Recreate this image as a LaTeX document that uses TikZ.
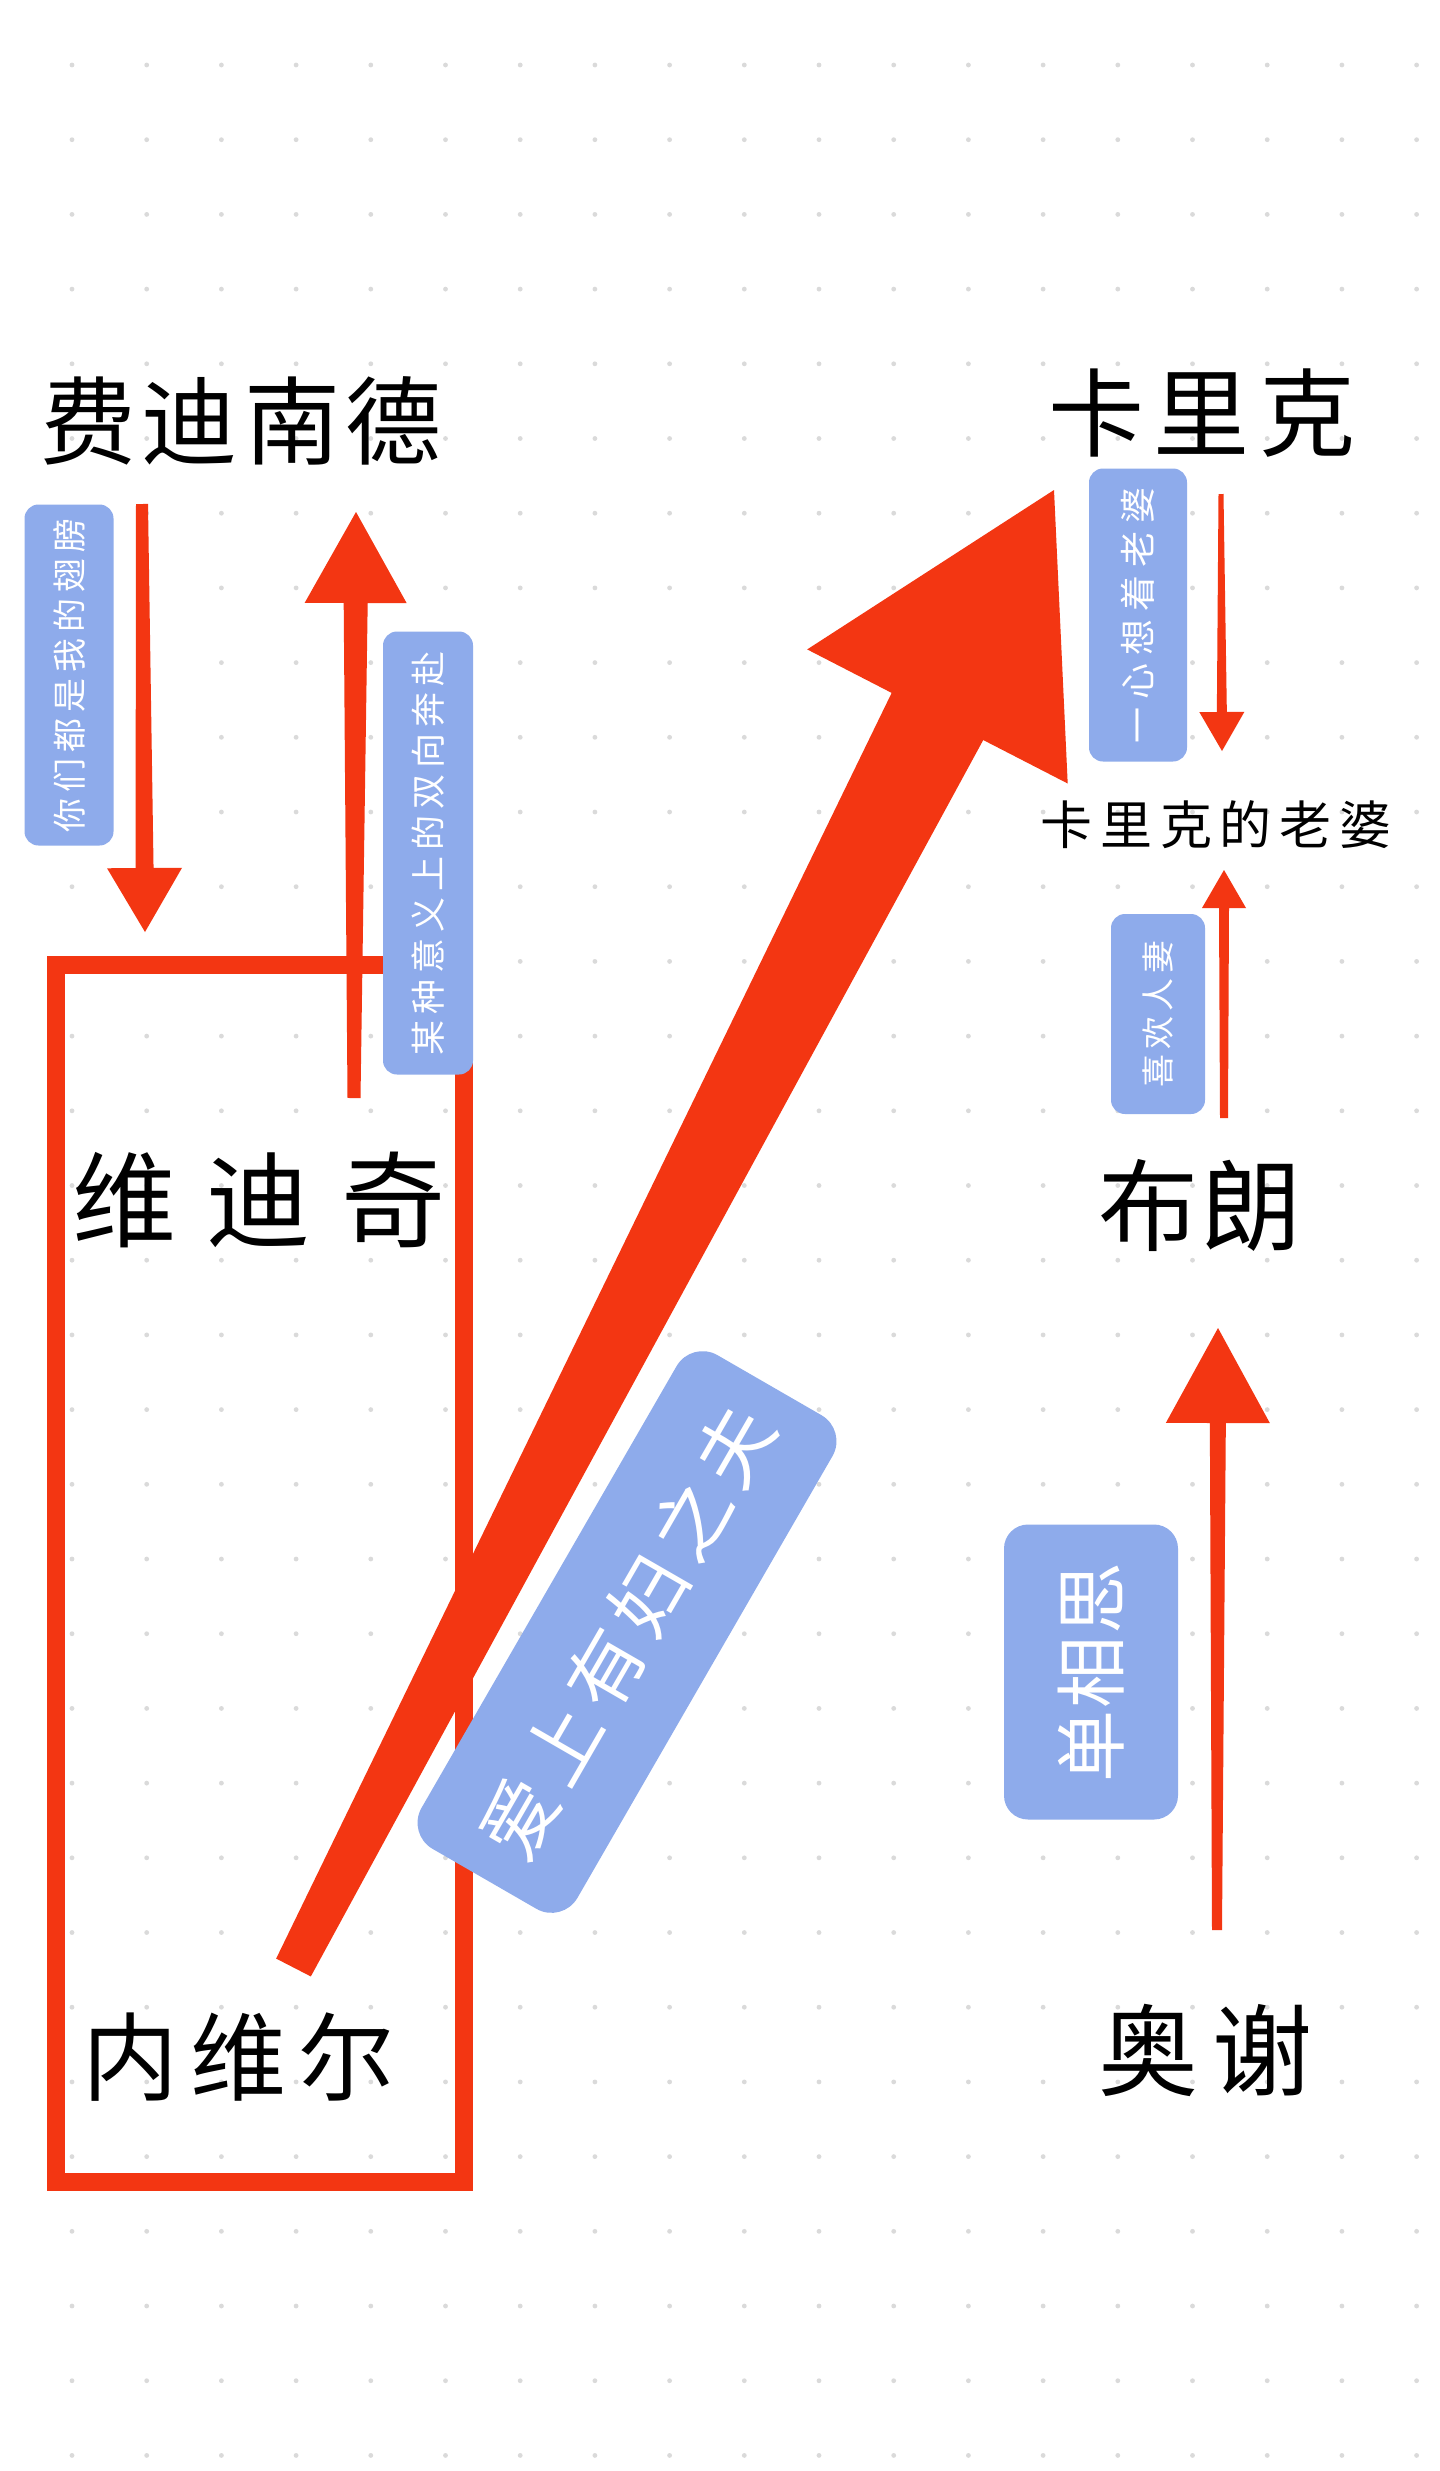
\documentclass[tikz,border=0pt]{standalone}
\usepackage{fontspec}
\setmainfont{Noto Sans CJK SC}
\usetikzlibrary{calc}
\definecolor{redc}{RGB}{243,54,18}
\definecolor{bluec}{RGB}{142,171,235}
\definecolor{dotc}{RGB}{218,218,218}
\newcommand{\fsz}[1]{\fontsize{#1}{#1}\selectfont}
% tapered arrow: start, tip, half width at start, half width at head base, head half width, head length
\newcommand{\tarrow}[6]{%
  \coordinate (hb) at ($(#2)!#6!(#1)$);
  \fill[redc] ($(#1)!#3!90:(#2)$) -- ($(hb)!#4!-90:(#1)$) -- ($(hb)!#5!-90:(#1)$) -- (#2)
     -- ($(hb)!#5!90:(#1)$) -- ($(hb)!#4!90:(#1)$) -- ($(#1)!#3!-90:(#2)$) -- cycle;}
\tikzset{
  pname/.style={inner sep=0pt, text=black},
  lbl/.style={fill=bluec, rounded corners=14pt, text=white, inner sep=0pt},
}
\begin{document}
\begin{tikzpicture}[x=1pt,y=-1pt]
\useasboundingbox (0,0) rectangle (1440,2471);
\fill[white] (0,0) rectangle (1440,2471);
% dot grid
\foreach \i in {0,...,18}{\foreach \j in {0,...,32}{
  \fill[dotc] (72+74.7*\i, 65+74.7*\j) circle (2.4pt);}}
% box around Vidic and Neville
\draw[redc, line width=18pt] (56,964.5) rectangle (464,2182);

% names
\node[pname] (fdnd) at (241,421) {\fsz{96}费\hspace{6pt}迪\hspace{6pt}南\hspace{6pt}德};
\node[pname] (krk) at (1202,413) {\fsz{96}卡\hspace{10pt}里\hspace{10pt}克};
\node[pname] (krkw) at (1216,825) {\fsz{52}卡\hspace{7.8pt}里\hspace{7.8pt}克\hspace{7.8pt}的\hspace{7.8pt}老\hspace{7.8pt}婆};
\node[pname] (vdq) at (259,1200) {\fsz{104}维\hspace{31pt}迪\hspace{31pt}奇};
\node[pname] (bl) at (1200,1205) {\fsz{100}布\hspace{3pt}朗};
\node[pname] (nwe) at (238,2057) {\fsz{96}内\hspace{12pt}维\hspace{12pt}尔};
\node[pname] (ox) at (1205,2050) {\fsz{100}奥\hspace{14pt}谢};

% arrow end points
\coordinate (a1s) at (142,504);  \coordinate (a1e) at (145,932);
\coordinate (a2s) at (354,1098); \coordinate (a2e) at (356,512);
\coordinate (a3s) at (293.5,1967.5); \coordinate (a3e) at (1054,490);
\coordinate (a4s) at (1221,494); \coordinate (a4e) at (1222,751);
\coordinate (a5s) at (1224,1118); \coordinate (a5e) at (1224,870);
\coordinate (a6s) at (1217,1930); \coordinate (a6e) at (1218,1328);

\tarrow{a1s}{a1e}{6pt}{9pt}{37.5pt}{64pt}
\tarrow{a2s}{a2e}{6.5pt}{12pt}{51pt}{91pt}
\tarrow{a3s}{a3e}{19.5pt}{51.5pt}{146.5pt}{254.7pt}
\tarrow{a4s}{a4e}{2.5pt}{5pt}{22.5pt}{39pt}
\tarrow{a5s}{a5e}{4pt}{5pt}{22pt}{38pt}
\tarrow{a6s}{a6e}{5pt}{8pt}{52pt}{95pt}

% labels
\node[lbl, rotate=90, minimum width=341pt, minimum height=89pt] (l1) at (69,675)
  {\fsz{34}你\hspace{6pt}们\hspace{6pt}都\hspace{6pt}是\hspace{6pt}我\hspace{6pt}的\hspace{6pt}翅\hspace{6pt}膀};
\node[lbl, rotate=90, minimum width=443pt, minimum height=90pt] (l2) at (428,853)
  {\fsz{35}某\hspace{6pt}种\hspace{6pt}意\hspace{6pt}义\hspace{6pt}上\hspace{6pt}的\hspace{6pt}双\hspace{6pt}向\hspace{6pt}奔\hspace{6pt}赴};
\node[lbl, rotate=90, minimum width=293pt, minimum height=98pt] (l3) at (1138,615)
  {\fsz{36}一\hspace{8pt}心\hspace{8pt}想\hspace{8pt}着\hspace{8pt}老\hspace{8pt}婆};
\node[lbl, rotate=90, minimum width=200pt, minimum height=94pt] (l4) at (1158,1014)
  {\fsz{33}喜\hspace{5pt}欢\hspace{5pt}人\hspace{5pt}妻};
\node[lbl, rotate=90, rounded corners=24pt, minimum width=295pt, minimum height=174pt] (l5) at (1091,1672)
  {\fsz{72}单\hspace{2pt}相\hspace{2pt}思};
\node[lbl, rotate=60, rounded corners=30pt, minimum width=570pt, minimum height=180pt] (l6) at (627,1632)
  {\fsz{76}爱\hspace{10pt}上\hspace{10pt}有\hspace{10pt}妇\hspace{10pt}之\hspace{10pt}夫};
\end{tikzpicture}
\end{document}
